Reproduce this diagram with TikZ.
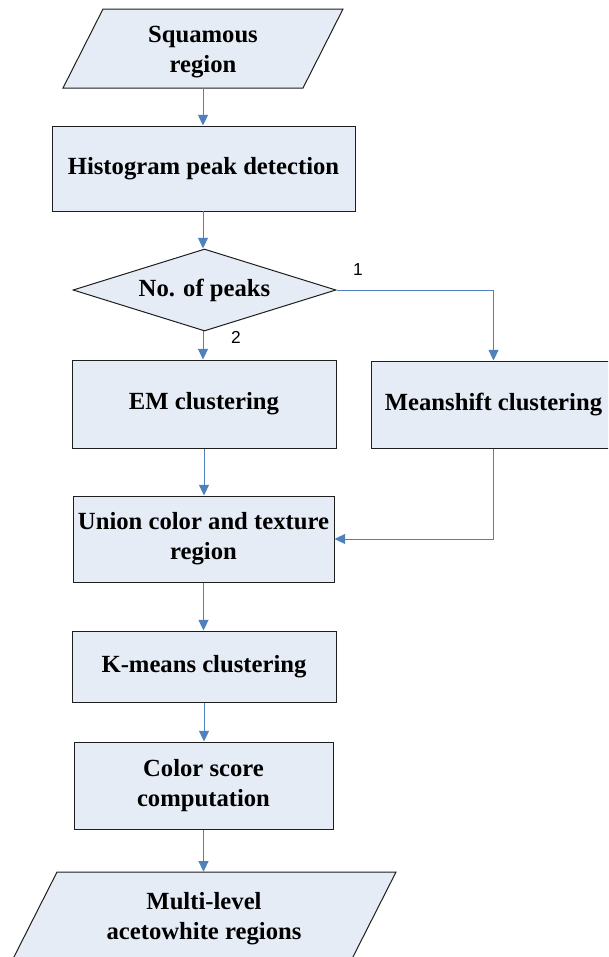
\documentclass[tikz,border=0pt]{standalone}
\usepackage{fontspec}
\setmainfont{Liberation Serif}
\newfontfamily\labfont{Liberation Sans}
\usetikzlibrary{shapes.geometric,arrows.meta}
\definecolor{boxfill}{RGB}{230,236,246}
\definecolor{arrowblue}{RGB}{79,129,189}
\definecolor{boxline}{RGB}{30,30,30}
\begin{document}
\begin{tikzpicture}[x=0.75pt,y=-0.75pt,
  txt/.style={font=\fontsize{18.5}{22.5}\selectfont\bfseries, align=center, text=black},
  procbox/.style={txt, draw=boxline, fill=boxfill, line width=0.75pt, rectangle, inner sep=0pt},
  shapeline/.style={draw=boxline, fill=boxfill, line width=0.75pt},
  flow/.style={draw=arrowblue, line width=0.75pt, -{Triangle[length=8pt,width=7.5pt]}},
  lab/.style={font=\labfont\fontsize{13}{15}\selectfont, inner sep=0pt}
]
\clip (0,0) rectangle (608,957);
% input parallelogram
\draw[shapeline] (103,9) -- (343,9) -- (303,88) -- (63,88) -- cycle;
\node[txt, minimum height=71*0.75pt, inner sep=0pt] (sq) at (203,52.5) {Squamous\\region};
% process boxes
\node[procbox, minimum width=303*0.75pt, minimum height=85*0.75pt] (hist) at (203.5,168.5) {Histogram peak detection};
\node[diamond, shapeline, txt, minimum width=263*0.75pt, minimum height=82*0.75pt, inner sep=0pt, aspect=3.2] (dec) at (204.5,290) {No. of peaks};
\node[procbox, minimum width=264*0.75pt, minimum height=88*0.75pt] (em) at (204,404) {EM clustering};
\node[procbox, minimum width=245*0.75pt, minimum height=87*0.75pt] (ms) at (493.5,404.5) {Meanshift clustering};
\node[procbox, minimum width=261*0.75pt, minimum height=86*0.75pt] (un) at (203.5,539) {Union color and texture\\region};
\node[procbox, minimum width=264*0.75pt, minimum height=71*0.75pt] (km) at (204,666.5) {K-means clustering};
\node[procbox, minimum width=259*0.75pt, minimum height=87*0.75pt] (cs) at (203.5,785.5) {Color score\\computation};
% output parallelogram
\draw[shapeline] (57,872) -- (396,872) -- (351.4,960) -- (12.4,960) -- cycle;
\node[txt, minimum height=94*0.75pt, inner sep=0pt] (out) at (204,919) {Multi-level\\acetowhite regions};
% connectors
\draw[flow] (203,88) coordinate (a1) -- (a1 |- hist.north);
\draw[flow] (203,211) coordinate (a2) -- (a2 |- dec.north);
\draw[flow] (203,331) coordinate (a3) -- (a3 |- em.north);
\draw[flow] (dec.east) -| (ms.north);
\draw[flow] (em.south) -- (em.south |- un.north);
\draw[flow] (ms.south) |- (un.east);
\draw[flow] (un.south) -- (un.south |- km.north);
\draw[flow] (km.south) -- (km.south |- cs.north);
\draw[flow] (cs.south) -- (cs.south |- out.north);
% branch labels
\node[lab] (l1) at (358,270) {1};
\node[lab] (l2) at (236,337) {2};
\end{tikzpicture}
\end{document}
